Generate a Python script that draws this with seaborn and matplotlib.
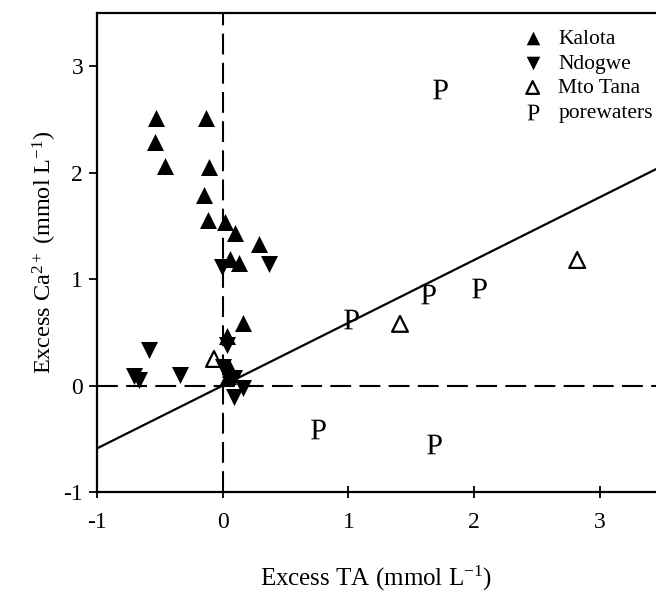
import matplotlib
matplotlib.use("Agg")
import matplotlib.pyplot as plt
import seaborn as sns
import numpy as np

sns.set_style("ticks")
plt.rcParams["font.family"] = ["Liberation Serif", "DejaVu Serif"]
plt.rcParams["mathtext.fontset"] = "custom"
plt.rcParams["mathtext.rm"] = "Liberation Serif"
plt.rcParams["mathtext.it"] = "Liberation Serif:italic"
plt.rcParams["mathtext.bf"] = "Liberation Serif:bold"
for key in ("text.color", "axes.labelcolor", "xtick.color", "ytick.color",
            "axes.edgecolor"):
    plt.rcParams[key] = "black"

# Excess TA / excess Ca2+ (mmol L-1)
kalota_ta = [-0.53, -0.13, -0.54, -0.46, -0.11, -0.15, -0.12, 0.02, 0.10, 0.29,
             0.06, 0.13, 0.16, 0.03, 0.06, 0.04]
kalota_ca = [2.51, 2.51, 2.29, 2.06, 2.05, 1.79, 1.56, 1.54, 1.43, 1.33,
             1.19, 1.15, 0.59, 0.47, 0.16, 0.09]

ndogwe_ta = [-0.01, 0.37, 0.03, -0.59, -0.71, -0.67, -0.34, 0.00, 0.09, 0.16, 0.09]
ndogwe_ca = [1.11, 1.14, 0.38, 0.33, 0.09, 0.05, 0.10, 0.17, 0.07, -0.02, -0.11]

mtotana_ta = [-0.07, 1.41, 2.82]
mtotana_ca = [0.25, 0.58, 1.18]

pore_ta = [1.02, 1.63, 2.04, 0.76, 1.68, 1.73]
pore_ca = [0.63, 0.86, 0.92, -0.41, -0.55, 2.79]

line_slope = 0.59
x_ticks = [-1, 0, 1, 2, 3]
y_ticks = [-1, 0, 1, 2, 3]

fig = plt.figure(figsize=(6.56, 5.96), dpi=100)
ax = fig.add_axes([0.148, 0.1745, 0.852, 0.8035])

xlim = (-1, 3.447)
ylim = (-1, 3.5)

# reference lines through the origin
ax.axvline(0, color="black", lw=1.5, ls=(0, (10, 4)), zorder=1)
ax.axhline(0, color="black", lw=1.5, ls=(0, (10, 4)), zorder=1)
xs = np.array(xlim)
sns.lineplot(x=xs, y=line_slope * xs, color="black", lw=1.6, ax=ax, zorder=2)

sns.scatterplot(x=kalota_ta, y=kalota_ca, marker="^", color="black", s=150,
                linewidth=0, label="Kalota", ax=ax, zorder=3)
sns.scatterplot(x=ndogwe_ta, y=ndogwe_ca, marker="v", color="black", s=150,
                linewidth=0, label="Ndogwe", ax=ax, zorder=3)
sns.scatterplot(x=mtotana_ta, y=mtotana_ca, marker="^", facecolors="none",
                edgecolors="black", s=130, linewidth=1.6, label="Mto Tana",
                ax=ax, zorder=3)
sns.scatterplot(x=pore_ta, y=pore_ca, marker=r"$\mathrm{P}$", color="black",
                s=200, linewidth=0, label="porewaters", ax=ax, zorder=3)

ax.set_xlim(*xlim)
ax.set_ylim(*ylim)
ax.set_xticks(x_ticks)
ax.set_yticks(y_ticks)
ax.set_xticklabels([str(t) for t in x_ticks])
ax.set_yticklabels([str(t) for t in y_ticks])
ax.tick_params(axis="x", direction="inout", length=9, width=1.3,
               labelsize=17, pad=10)
ax.tick_params(axis="y", direction="out", length=6, width=1.3,
               labelsize=17, pad=4)

for side in ("left", "bottom", "top"):
    ax.spines[side].set_linewidth(1.6)
ax.spines["right"].set_visible(False)

ax.set_xlabel(r"Excess TA (mmol L$^{-1}$)", fontsize=18, labelpad=22)
ax.set_ylabel(r"Excess Ca$^{2+}$ (mmol L$^{-1}$)", fontsize=17.5, labelpad=3)

handles, labels = ax.get_legend_handles_labels()
leg = ax.legend(handles, labels, loc="upper right", frameon=False,
                fontsize=15.5, handletextpad=0.2, labelspacing=0.21,
                borderaxespad=0.0, bbox_to_anchor=(1.01, 0.985),
                markerscale=0.8)

fig.savefig("out.png", dpi=100)
